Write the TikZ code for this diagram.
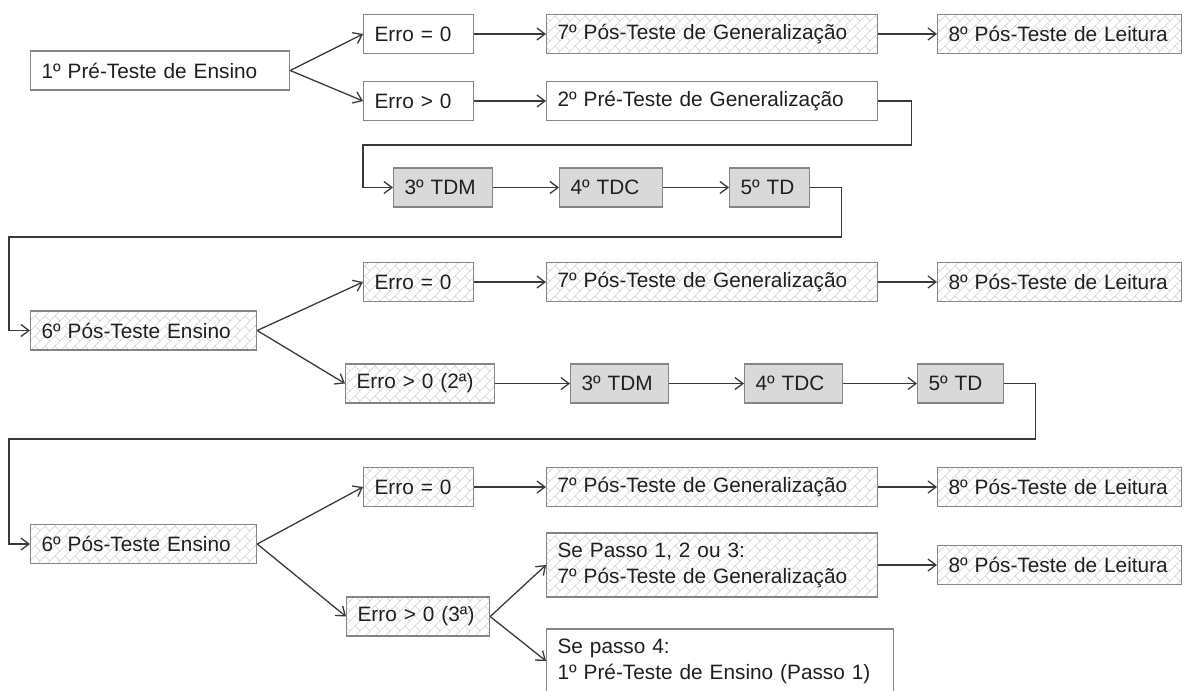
\documentclass[tikz,border=0pt]{standalone}
\usepackage{fontspec}
\setmainfont{Liberation Sans}
\usetikzlibrary{arrows.meta,patterns}
\definecolor{boxline}{HTML}{858585}
\definecolor{tdfill}{HTML}{D9D9D9}
\definecolor{hatchgray}{HTML}{CFCFCF}
\definecolor{linkline}{HTML}{3A3A3A}
\pgfdeclarepatternformonly{diagbrick}{\pgfqpoint{-1pt}{-1pt}}{\pgfqpoint{11pt}{11pt}}{\pgfqpoint{10pt}{10pt}}{%
  \pgfsetlinewidth{0.6pt}%
  \pgfpathmoveto{\pgfqpoint{0pt}{0pt}}\pgfpathlineto{\pgfqpoint{10pt}{10pt}}%
  \pgfpathmoveto{\pgfqpoint{5pt}{5pt}}\pgfpathlineto{\pgfqpoint{10pt}{0pt}}%
  \pgfusepath{stroke}}
\begin{document}
\begin{tikzpicture}[x=1pt,y=-1pt,
  box/.style={draw=boxline,line width=1.2pt,anchor=west,inner xsep=11pt,inner ysep=0pt,
    minimum height=39pt,align=left,text width=#1,text=black!88,
    font=\fontsize{20.8pt}{26pt}\selectfont},
  plainbox/.style={fill=white},
  hatchbox/.style={pattern=diagbrick,pattern color=hatchgray},
  tdbox/.style={fill=tdfill},
  link/.style={draw=linkline,line width=1.3pt,-{Straight Barb[length=8pt,width=12pt]}}]
\path[use as bounding box,clip] (0,0) rectangle (1184,691);
% primeira tentativa
\node[box=237,plainbox] (pre1) at (30,70.5) {1º Pré-Teste de Ensino};
\node[box=88,plainbox] (e0a) at (363,34) {Erro = 0};
\node[box=88,plainbox] (e1a) at (363,101) {Erro > 0};
\node[box=309,hatchbox] (pg7a) at (546,34) {7º Pós-Teste de Generalização};
\node[box=222,hatchbox] (pl8a) at (937,34) {8º Pós-Teste de Leitura};
\node[box=309,plainbox] (pg2) at (546,101) {2º Pré-Teste de Generalização};
\node[box=77,tdbox] (tdm1) at (393,187.5) {3º TDM};
\node[box=81,tdbox] (tdc1) at (559,187.5) {4º TDC};
\node[box=58,tdbox] (td1) at (729,187.5) {5º TD};
% segunda tentativa
\node[box=204,hatchbox] (pos6a) at (30,330.5) {6º Pós-Teste Ensino};
\node[box=88,hatchbox] (e0b) at (363,282) {Erro = 0};
\node[box=309,hatchbox] (pg7b) at (546,282) {7º Pós-Teste de Generalização};
\node[box=222,hatchbox] (pl8b) at (937,282) {8º Pós-Teste de Leitura};
\node[box=127,hatchbox] (e2b) at (345,383.5) {Erro > 0 (2ª)};
\node[box=76,tdbox] (tdm2) at (570,383.5) {3º TDM};
\node[box=76,tdbox] (tdc2) at (744,383.5) {4º TDC};
\node[box=64,tdbox] (td2) at (917,383.5) {5º TD};
% terceira tentativa
\node[box=204,hatchbox] (pos6b) at (30,544) {6º Pós-Teste Ensino};
\node[box=88,hatchbox] (e0c) at (363,487) {Erro = 0};
\node[box=309,hatchbox] (pg7c) at (546,487) {7º Pós-Teste de Generalização};
\node[box=222,hatchbox] (pl8c) at (937,487) {8º Pós-Teste de Leitura};
\node[box=121,hatchbox] (e3c) at (346,616.5) {Erro > 0 (3ª)};
\node[box=309,hatchbox,minimum height=64pt] (sp123) at (546,565) {Se Passo 1, 2 ou 3:\\7º Pós-Teste de Generalização};
\node[box=222,hatchbox] (pl8d) at (937,565) {8º Pós-Teste de Leitura};
\node[box=325,plainbox,minimum height=64pt] (sp4) at (546,661) {Se passo 4:\\1º Pré-Teste de Ensino (Passo 1)};
\foreach \a/\b in {pre1/e0a,pre1/e1a,e0a/pg7a,pg7a/pl8a,e1a/pg2,tdm1/tdc1,tdc1/td1,
  pos6a/e0b,pos6a/e2b,e0b/pg7b,pg7b/pl8b,e2b/tdm2,tdm2/tdc2,tdc2/td2,
  pos6b/e0c,pos6b/e3c,e0c/pg7c,pg7c/pl8c,e3c/sp123,e3c/sp4,sp123/pl8d}
  {\draw[link] (\a.east) -- (\b.west);}
\draw[link] (pg2.east) -- ++(33,0) |- (363,145) |- (tdm1.west);
\draw[link] (td1.east) -- ++(31,0) |- (9,237) |- (pos6a.west);
\draw[link] (td2.east) -- ++(31,0) |- (9,439) |- (pos6b.west);
\end{tikzpicture}
\end{document}
